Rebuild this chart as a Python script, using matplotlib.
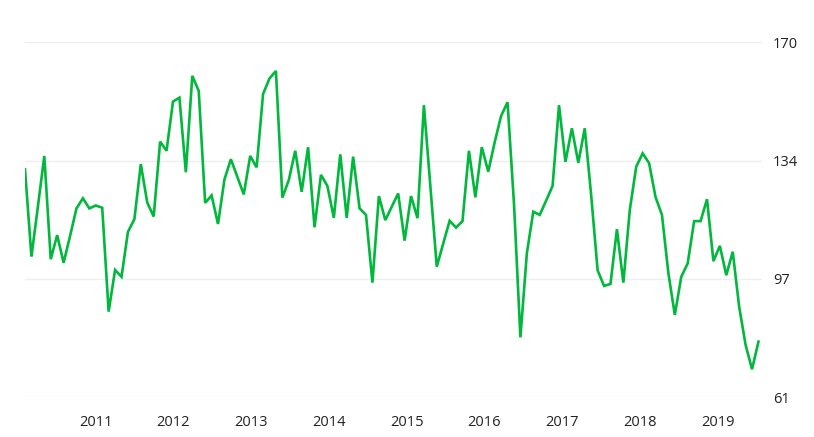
import matplotlib
matplotlib.use("Agg")
import matplotlib.pyplot as plt
import numpy as np

# Monthly series values
values = [
    131.0, 104.2, 119.5, 135.1, 103.4, 110.8, 102.3, 110.5, 119.0, 122.1,
    119.0, 119.9, 119.2, 87.3, 100.1, 98.0, 111.8, 115.7, 132.6, 120.8,
    116.5, 139.5, 136.7, 151.8, 153.0, 130.1, 159.7, 155.1, 120.7, 123.0,
    114.2, 127.9, 134.1, 128.7, 123.3, 135.1, 131.6, 154.1, 158.9, 161.2,
    122.3, 127.7, 136.7, 124.1, 137.8, 113.2, 129.3, 125.9, 116.1, 135.6,
    116.1, 134.9, 119.0, 117.0, 96.2, 122.8, 115.4, 119.5, 123.6, 109.1,
    122.8, 116.0, 150.7, 125.9, 101.1, 108.2, 115.2, 113.1, 115.1, 136.7,
    122.4, 137.8, 130.3, 139.3, 147.4, 151.6, 120.5, 79.4, 105.2, 118.0,
    117.0, 121.4, 125.9, 150.7, 133.3, 143.6, 133.0, 143.6, 123.0, 100.0,
    95.2, 95.8, 112.6, 96.2, 118.5, 131.8, 135.9, 132.9, 122.5, 117.0,
    99.1, 86.3, 98.0, 102.1, 115.1, 115.1, 121.8, 102.8, 107.5, 98.5,
    105.7, 88.8, 77.1, 69.6, 78.1,
]
year_labels = ["2011", "2012", "2013", "2014", "2015", "2016", "2017", "2018", "2019"]
y_ticks = [61, 97.33, 133.67, 170]
y_tick_labels = ["61", "97", "134", "170"]

plt.rcParams['font.family'] = ['Open Sans', 'DejaVu Sans']

fig = plt.figure(figsize=(8.14, 4.37), dpi=100)
ax = fig.add_axes([25 / 814, 1 - 397.3 / 437, (762 - 25) / 814, (397.3 - 42.3) / 437])

x = np.arange(len(values))
ax.plot(x, values, color='#00b83c', linewidth=1.9, solid_joinstyle='miter', zorder=3)

ax.set_xlim(0, 114.55)
ax.set_ylim(61, 170)

ax.set_yticks(y_ticks)
ax.set_yticklabels(y_tick_labels)
ax.yaxis.tick_right()
ax.tick_params(axis='y', length=0, pad=8, labelsize=10.5, labelcolor='#222222')

xt = [11 + 12.08 * k for k in range(len(year_labels))]
ax.set_xticks(xt)
ax.set_xticklabels(year_labels)
ax.tick_params(axis='x', length=0, pad=13, labelsize=10.5, labelcolor='#222222')

for yv in y_ticks:
    ax.axhline(yv, color='#eceff1', linewidth=1.0, zorder=1)

for s in ax.spines.values():
    s.set_visible(False)

fig.savefig('out.png', dpi=100)
